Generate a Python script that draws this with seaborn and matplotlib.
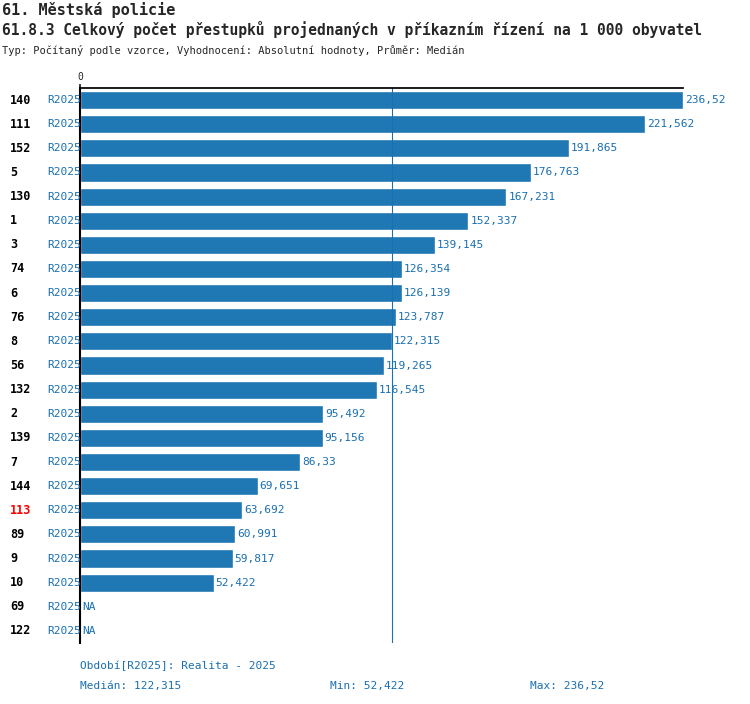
import matplotlib

matplotlib.use("Agg")
import matplotlib.pyplot as plt
import numpy as np
import pandas as pd
import seaborn as sns

ids = ["140", "111", "152", "5", "130", "1", "3", "74", "6", "76", "8", "56", "132",
       "2", "139", "7", "144", "113", "89", "9", "10", "69", "122"]
values = [236.52, 221.562, 191.865, 176.763, 167.231, 152.337, 139.145, 126.354, 126.139,
          123.787, 122.315, 119.265, 116.545, 95.492, 95.156, 86.33, 69.651, 63.692,
          60.991, 59.817, 52.422, np.nan, np.nan]
highlight = "113"
median_val = 122.315
min_val = 52.422
max_val = 236.52

BLUE = "#1f77b4"
TXT = "#1a6fb0"


def fmt(v):
    return f"{v:g}".replace(".", ",")


def main() -> None:
    sns.set_theme(style="white")
    plt.rcParams["font.family"] = ["DejaVu Sans Mono"]
    df = pd.DataFrame({"id": ids, "value": values})

    W, H = 750, 704
    fig = plt.figure(figsize=(W / 100, H / 100), dpi=100)
    ax = fig.add_axes([80 / W, 1 - 643 / H, (683 - 80) / W, (643 - 88) / H])
    sns.barplot(x="value", y="id", data=df, ax=ax, color=BLUE, orient="h",
                width=0.75, saturation=1, order=ids)
    ax.set_xlim(0, max_val)
    ax.set_ylim(len(ids) - 0.5, -0.5)
    ax.set_xlabel("")
    ax.set_ylabel("")
    ax.set_yticks([])
    ax.set_xticks([0])
    ax.xaxis.tick_top()
    ax.tick_params(axis="x", length=3, labelsize=7, pad=1)
    for s in ["right", "bottom"]:
        ax.spines[s].set_visible(False)
    ax.spines["left"].set_linewidth(1.5)
    ax.spines["left"].set_color("black")
    ax.spines["top"].set_color("black")
    ax.axvline(median_val, color=TXT, lw=0.8)

    for i, (name, v) in enumerate(zip(ids, values)):
        label = "NA" if np.isnan(v) else fmt(v)
        xv = 0 if np.isnan(v) else v
        ax.text(xv + 0.8, i, label, va="center", ha="left", fontsize=8, color=TXT)
        ax.text(-78 / 603 * max_val + 8 / 603 * max_val, i, name, va="center", ha="left",
                fontsize=8.5, fontweight="bold",
                color="red" if name == highlight else "black", clip_on=False)
        ax.text(-33 / 603 * max_val, i, "R2025", va="center", ha="left", fontsize=8,
                color=TXT, clip_on=False)

    fig.text(2 / W, 1 - 10 / H, "61. Městská policie", fontsize=11, fontweight="bold", va="center")
    fig.text(2 / W, 1 - 30 / H, "61.8.3 Celkový počet přestupků projednaných v příkazním řízení na 1 000 obyvatel",
             fontsize=10.5, fontweight="bold", va="center")
    fig.text(2 / W, 1 - 50 / H, "Typ: Počítaný podle vzorce, Vyhodnocení: Absolutní hodnoty, Průměr: Medián",
             fontsize=7.5, va="center")
    fig.text(80 / W, 1 - 666 / H, "Období[R2025]: Realita - 2025", fontsize=8, color=TXT, va="center")
    fig.text(80 / W, 1 - 686 / H, f"Medián: {fmt(median_val)}", fontsize=8, color=TXT, va="center")
    fig.text(330 / W, 1 - 686 / H, f"Min: {fmt(min_val)}", fontsize=8, color=TXT, va="center")
    fig.text(530 / W, 1 - 686 / H, f"Max: {fmt(max_val)}", fontsize=8, color=TXT, va="center")

    fig.savefig("out.png", dpi=100)
    plt.close(fig)


if __name__ == "__main__":
    main()
